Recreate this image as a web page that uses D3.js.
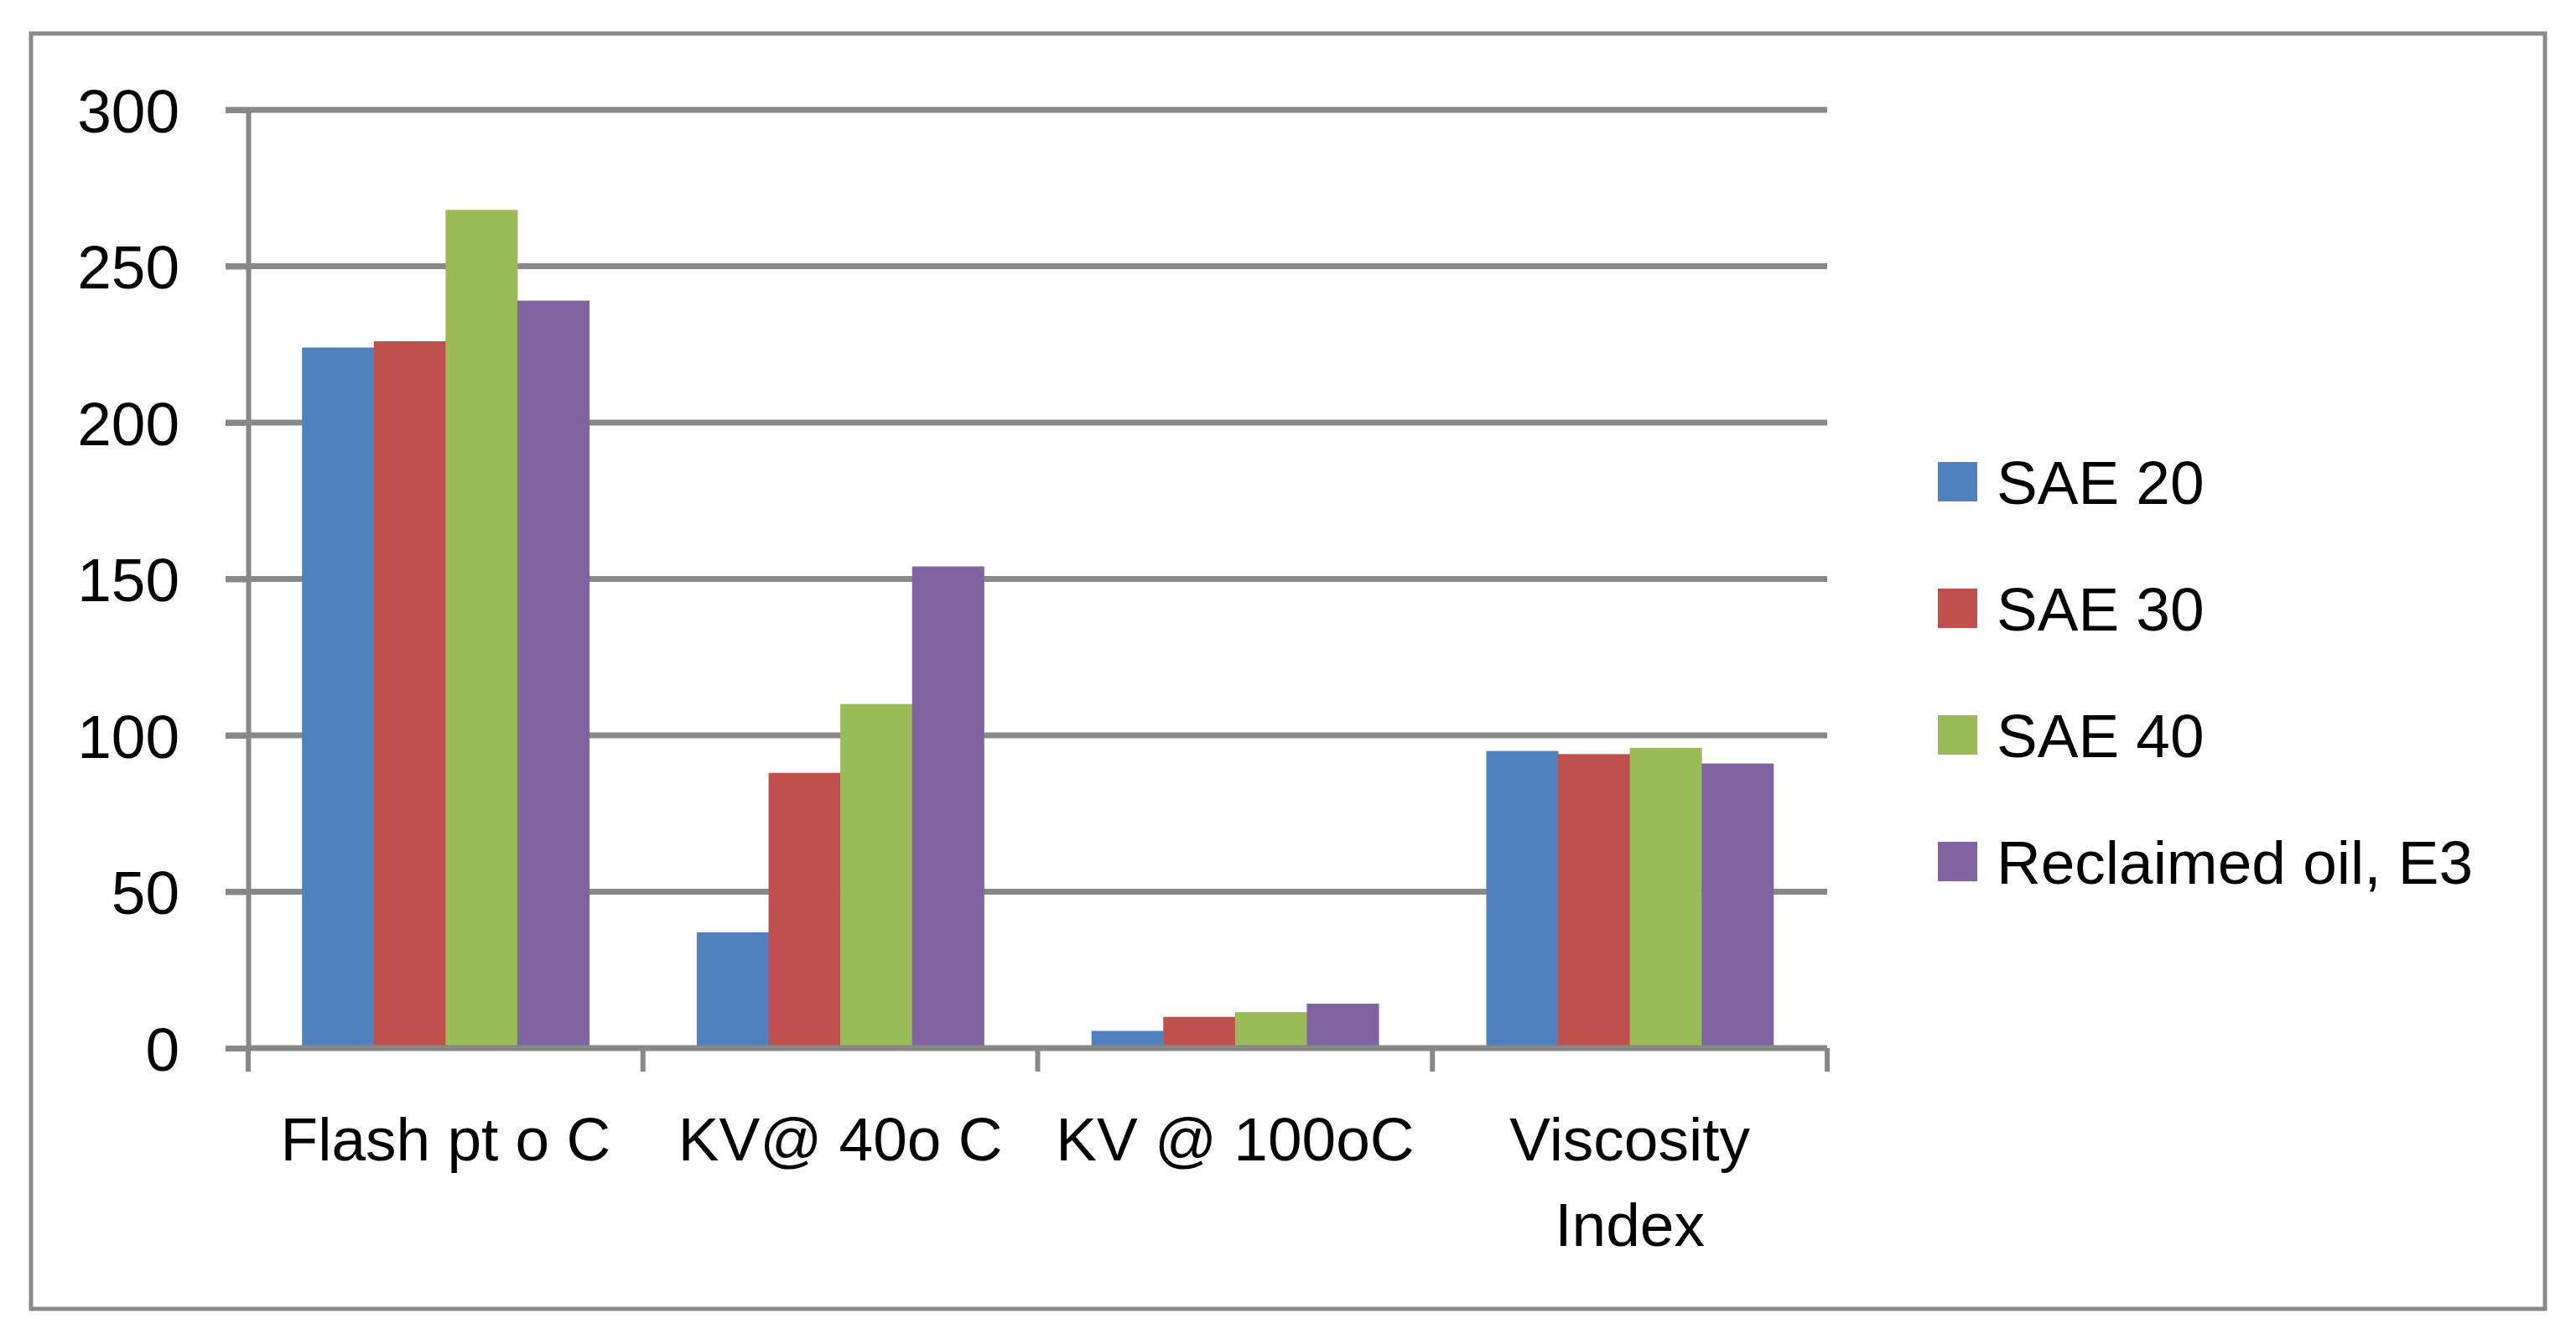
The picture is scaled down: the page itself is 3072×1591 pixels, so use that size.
<!DOCTYPE html>
<html>
<head>
<meta charset="utf-8">
<script src="https://cdnjs.cloudflare.com/ajax/libs/d3/7.8.5/d3.min.js"></script>
<style>
  body { margin: 0; background: #fff; }
  text { font-family: "Liberation Sans", Arial, sans-serif; fill: #000; }
</style>
</head>
<body>
<div class="content"></div>
<script>
  var categories = ["Flash pt o C", "KV@ 40o C", "KV @ 100oC", "Viscosity Index"];
  var seriesNames = ["SAE 20", "SAE 30", "SAE 40", "Reclaimed oil, E3"];
  var colors = ["#4F81BD", "#C0504D", "#9BBB59", "#8064A2"];
  // values per series, in category order
  var sae20 = [224, 37, 5.5, 95];
  var sae30 = [226, 88, 10, 94];
  var sae40 = [268, 110, 11.5, 96];
  var reclaimed = [239, 154, 14.2, 91];
  var yTicks = [0, 50, 100, 150, 200, 250, 300];

  var series = [sae20, sae30, sae40, reclaimed];

  var W = 3072, H = 1591,
      margin = {top: 131, left: 296},
      width = 2179 - 296,
      height = 1250 - 131,
      gridColor = "#888888",
      fontSize = 73;

  var svg = d3.select(".content").append("svg")
      .attr("width", W)
      .attr("height", H);

  // outer chart border
  svg.append("rect")
      .attr("x", 37).attr("y", 40)
      .attr("width", 3035 - 37).attr("height", 1561 - 40)
      .attr("fill", "#fff")
      .attr("stroke", gridColor)
      .attr("stroke-width", 5);

  var g = svg.append("g")
      .attr("transform", "translate(" + margin.left + "," + margin.top + ")");

  var x0 = d3.scaleBand()
      .domain(categories)
      .range([0, width])
      .paddingInner(1.5 / 5.5)
      .paddingOuter(0.75 / 5.5);

  var x1 = d3.scaleBand()
      .domain(d3.range(series.length))
      .range([0, x0.bandwidth()]);

  var y = d3.scaleLinear()
      .domain([0, 300])
      .range([height, 0]);

  // gridlines
  g.append("g").selectAll("line")
      .data(yTicks.filter(function(d) { return d > 0; }))
      .enter().append("line")
      .attr("x1", -27).attr("x2", width)
      .attr("y1", function(d) { return y(d); })
      .attr("y2", function(d) { return y(d); })
      .attr("stroke", gridColor)
      .attr("stroke-width", 7);

  // bars
  var group = g.selectAll(".cat")
      .data(categories)
      .enter().append("g")
      .attr("class", "cat")
      .attr("transform", function(d) { return "translate(" + x0(d) + ",0)"; });

  group.selectAll("rect")
      .data(function(d, i) { return series.map(function(s, j) { return {s: j, v: s[i]}; }); })
      .enter().append("rect")
      .attr("x", function(d) { return x1(d.s); })
      .attr("width", x1.bandwidth() + 0.5)
      .attr("y", function(d) { return y(d.v); })
      .attr("height", function(d) { return height - y(d.v); })
      .attr("fill", function(d) { return colors[d.s]; });

  // y axis
  var yAxis = g.append("g")
      .call(d3.axisLeft(y).tickValues(yTicks).tickSize(27).tickPadding(55));
  yAxis.select(".domain").attr("stroke", gridColor).attr("stroke-width", 6);
  yAxis.selectAll(".tick line").attr("stroke", gridColor).attr("stroke-width", 7);
  yAxis.selectAll(".tick text")
      .style("font-size", fontSize + "px")
      .style("font-family", "'Liberation Sans', Arial, sans-serif")
      .attr("dy", "0.36em");

  // x axis: line and boundary ticks
  var xAxis = g.append("g").attr("transform", "translate(0," + height + ")");
  xAxis.append("line")
      .attr("x1", 0).attr("x2", width)
      .attr("stroke", gridColor).attr("stroke-width", 7);
  var bounds = categories.map(function(c) { return x0(c) - x0.step() * x0.paddingInner() / 2; });
  bounds.push(width);
  xAxis.selectAll(".bt")
      .data(bounds)
      .enter().append("line")
      .attr("class", "bt")
      .attr("x1", function(d) { return d; }).attr("x2", function(d) { return d; })
      .attr("y1", 0).attr("y2", 28)
      .attr("stroke", gridColor).attr("stroke-width", 6);

  // category labels, wrapped to the category width
  xAxis.selectAll(".lbl")
      .data(categories)
      .enter().append("text")
      .attr("class", "lbl")
      .attr("text-anchor", "middle")
      .style("font-size", fontSize + "px")
      .attr("transform", function(d) { return "translate(" + (x0(d) + x0.bandwidth() / 2) + ",134)"; })
      .each(function(d) {
        var t = d3.select(this), words = d.split(" "), line = [], lineNo = 0;
        var ts = t.append("tspan").attr("x", 0).attr("dy", 0);
        words.forEach(function(w) {
          line.push(w);
          ts.text(line.join(" "));
          if (ts.node().getComputedTextLength() > x0.step() && line.length > 1) {
            line.pop();
            ts.text(line.join(" "));
            line = [w];
            lineNo++;
            ts = t.append("tspan").attr("x", 0).attr("dy", 102).text(w);
          }
        });
      });

  // legend
  var legend = svg.append("g").selectAll(".leg")
      .data(seriesNames)
      .enter().append("g")
      .attr("class", "leg")
      .attr("transform", function(d, i) { return "translate(2311," + (551 + i * 151) + ")"; });

  legend.append("rect")
      .attr("width", 47).attr("height", 47)
      .attr("fill", function(d, i) { return colors[i]; });

  legend.append("text")
      .attr("x", 70).attr("y", 23.5)
      .attr("dy", "0.36em")
      .style("font-size", fontSize + "px")
      .text(function(d) { return d; });
</script>
</body>
</html>
